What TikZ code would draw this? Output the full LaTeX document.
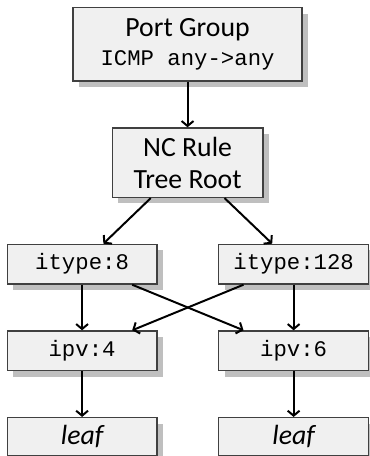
\documentclass[tikz,border=0pt]{standalone}
\usepackage{fontspec}
\setsansfont{Carlito}
\setmonofont{Liberation Mono}
\usetikzlibrary{positioning,shadows,arrows.meta}

\begin{document}
\begin{tikzpicture}[
    node distance=23pt,
    box/.style={draw=black!75, line width=0.7pt, fill=black!6, align=center, inner sep=0pt,
      font=\fontsize{14}{16}\selectfont\sffamily,
      drop shadow={shadow xshift=3pt, shadow yshift=-3pt, fill=black!25, opacity=1}},
    field/.style={box, minimum width=75.5pt, minimum height=20pt,
      font=\fontsize{11.25}{14}\selectfont\ttfamily},
    leafbox/.style={box, minimum width=75.5pt, minimum height=19pt, font=\fontsize{14}{16}\selectfont\sffamily\itshape},
    line width=1pt, >={Straight Barb[length=2.5pt,width=6pt]}]
          \node[box, minimum width=115.5pt, minimum height=37pt] (group)
              {Port Group\\[-1pt]{\fontsize{11.25}{14}\selectfont\ttfamily ICMP any->any}};
          \node[box, below=of group, minimum width=76pt, minimum height=35pt] (root) {NC Rule\\Tree Root};
          \node[field, below=of root, xshift=-53.2pt] (itype8) {itype:8};
          \node[field, right=30.5pt of itype8] (itype128) {itype:128};
          \node[field, below=of itype8] (ipv4) {ipv:4};
          \node[field, below=of itype128] (ipv6) {ipv:6};
          \node[leafbox, below=of ipv4] (leaf4) {leaf};
          \node[leafbox, below=of ipv6] (leaf6) {leaf};
          \useasboundingbox ([xshift=-36.5pt, yshift=3.5pt]group.north west) rectangle ++(186.5pt,-228pt);
          \draw[->]
              (group) edge (root)
              (root) edge (itype8)
              (root) edge (itype128)
              (itype8) edge (ipv4)
              (itype8) edge (ipv6)
              (itype128) edge (ipv4)
              (itype128) edge (ipv6)
              (ipv4) edge (leaf4)
              (ipv6) edge (leaf6);
       \end{tikzpicture}
\end{document}
